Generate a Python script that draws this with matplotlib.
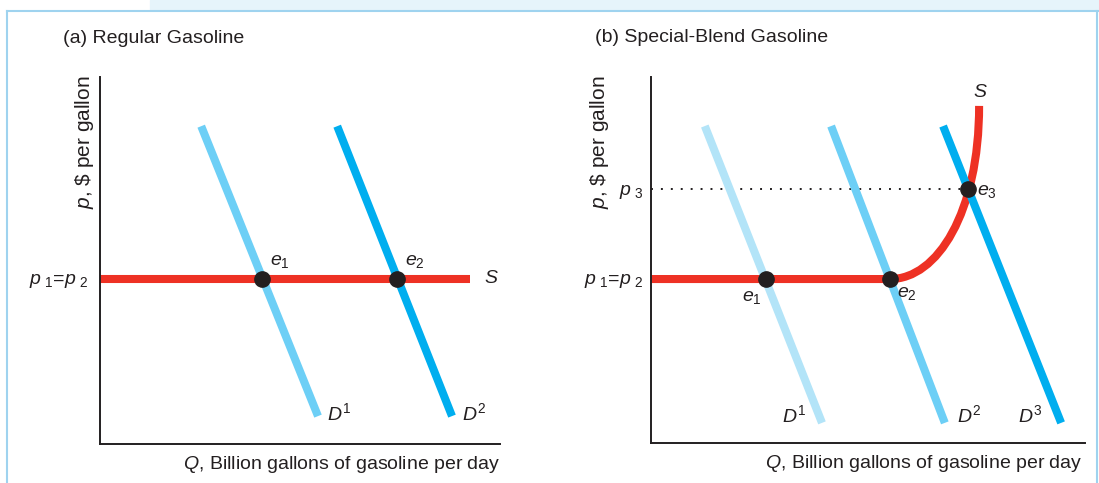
import matplotlib
matplotlib.use('Agg')
import matplotlib.pyplot as plt
from matplotlib.lines import Line2D
from matplotlib.patches import Rectangle, PathPatch
from matplotlib.path import Path

plt.rcParams['font.family'] = ['Liberation Sans', 'DejaVu Sans']
plt.rcParams['mathtext.fontset'] = 'custom'
plt.rcParams['mathtext.rm'] = 'Liberation Sans'
plt.rcParams['mathtext.it'] = 'Liberation Sans:italic'
plt.rcParams['mathtext.bf'] = 'Liberation Sans:bold'

# ---- data (axes run 0..10 in both panels) ----
# panel (a): regular gasoline
a_supply_q = [0.0, 9.25]
a_supply_p = [4.5, 4.5]
a_d1_q = [2.53, 5.45]
a_d1_p = [8.66, 0.76]
a_d2_q = [5.93, 8.80]
a_d2_p = [8.66, 0.76]
a_eq_q = [4.06, 7.43]
a_eq_p = [4.5, 4.5]

# panel (b): special-blend gasoline
# supply: flat part, then a cubic curve (start, two control points, end)
b_supply_q = [0.0, 5.51, 6.6, 7.56, 7.56]
b_supply_p = [4.48, 4.48, 4.48, 6.3, 9.21]
b_d1_q = [1.24, 3.94]
b_d1_p = [8.66, 0.55]
b_d2_q = [4.15, 6.77]
b_d2_p = [8.66, 0.55]
b_d3_q = [6.73, 9.45]
b_d3_p = [8.66, 0.55]
b_eq_q = [2.65, 5.51, 7.31]
b_eq_p = [4.48, 4.48, 6.95]
b_p3 = 6.95

red = '#ee3124'
blue_dark = '#00aeef'
blue_mid = '#6dcff6'
blue_light = '#b3e4f8'
ink = '#231f20'
fs = 14

fig = plt.figure(figsize=(10.99, 4.83), dpi=100)

# page decoration: light band and frame
fig.patches.append(Rectangle((150 / 1099, 1 - 10 / 483), 1, 10 / 483,
                             transform=fig.transFigure, color='#e6f4fb', zorder=0))
frame_kw = dict(transform=fig.transFigure, color='#9fd3ef', lw=1.5)
fig.lines.append(Line2D([7 / 1099, 1], [1 - 11 / 483, 1 - 11 / 483], **frame_kw))
fig.lines.append(Line2D([7 / 1099, 7 / 1099], [0, 1 - 11 / 483], **frame_kw))
fig.lines.append(Line2D([1097 / 1099, 1097 / 1099], [0, 1 - 11 / 483], **frame_kw))

ax1 = fig.add_axes([100 / 1099, 39 / 483, 400 / 1099, 367 / 483])
ax2 = fig.add_axes([651 / 1099, 40 / 483, 434 / 1099, 366 / 483])

for ax in (ax1, ax2):
    ax.set_xlim(0, 10)
    ax.set_ylim(0, 10)
    ax.set_xticks([])
    ax.set_yticks([])
    ax.spines['top'].set_visible(False)
    ax.spines['right'].set_visible(False)
    for s in ('left', 'bottom'):
        ax.spines[s].set_linewidth(1.4)
        ax.spines[s].set_color(ink)
    ax.patch.set_alpha(0)

lw = 5.8
p12 = r'$p_{\ 1}\!=\!p_{\ 2}$'

# ---- panel (a) ----
ax1.plot(a_d1_q, a_d1_p, color=blue_mid, lw=lw, solid_capstyle='butt')
ax1.plot(a_d2_q, a_d2_p, color=blue_dark, lw=lw, solid_capstyle='butt')
ax1.plot(a_supply_q, a_supply_p, color=red, lw=lw, solid_capstyle='butt', clip_on=False)
ax1.plot(a_eq_q, a_eq_p, 'o', color=ink, ms=11, zorder=5)

ax1.text(4.25, 4.98, '$e_1$', fontsize=fs, color=ink, ha='left', va='center')
ax1.text(7.63, 4.98, '$e_2$', fontsize=fs, color=ink, ha='left', va='center')
ax1.text(9.6, 4.5, '$S$', fontsize=fs, color=ink, ha='left', va='center')
ax1.text(5.68, 0.84, '$D^1$', fontsize=fs, color=ink, ha='left', va='center')
ax1.text(9.05, 0.84, '$D^2$', fontsize=fs, color=ink, ha='left', va='center')
ax1.text(-0.3, 4.45, p12, fontsize=fs, color=ink, ha='right', va='center')
ax1.text(10, -0.55, '$Q$, Billion gallons of gasoline per day', fontsize=fs, color=ink,
         ha='right', va='center')
ax1.text(-0.375, 10.05, r'$p$, \$ per gallon', fontsize=15, color=ink, rotation=90,
         ha='center', va='top')
ax1.text(-0.925, 11.06, '(a) Regular Gasoline', fontsize=fs, color=ink, ha='left', va='center')

# ---- panel (b) ----
ax2.plot([0, b_eq_q[2]], [b_p3, b_p3], color=ink, lw=1.4, dashes=(1, 4.1), clip_on=False)
ax2.plot(b_d1_q, b_d1_p, color=blue_light, lw=lw, solid_capstyle='butt')
ax2.plot(b_d2_q, b_d2_p, color=blue_mid, lw=lw, solid_capstyle='butt')
ax2.plot(b_d3_q, b_d3_p, color=blue_dark, lw=lw, solid_capstyle='butt')
supply_path = Path(list(zip(b_supply_q, b_supply_p)),
                   [Path.MOVETO, Path.LINETO, Path.CURVE4, Path.CURVE4, Path.CURVE4])
ax2.add_patch(PathPatch(supply_path, fill=False, edgecolor=red, lw=lw,
                        capstyle='butt', joinstyle='round', clip_on=False))
ax2.plot(b_eq_q, b_eq_p, 'o', color=ink, ms=11, zorder=5)

ax2.text(2.33, 3.98, '$e_1$', fontsize=fs, color=ink, ha='center', va='center')
ax2.text(5.67, 4.08, '$e_2$', fontsize=fs, color=ink, ha='left', va='center')
ax2.text(7.51, 6.88, '$e_3$', fontsize=fs, color=ink, ha='left', va='center')
ax2.text(7.58, 9.59, '$S$', fontsize=fs, color=ink, ha='center', va='center')
ax2.text(-0.18, 6.86, r'$p_{\ 3}$', fontsize=fs, color=ink, ha='right', va='center')
ax2.text(-0.18, 4.43, p12, fontsize=fs, color=ink, ha='right', va='center')
ax2.text(3.02, 0.77, '$D^1$', fontsize=fs, color=ink, ha='left', va='center')
ax2.text(7.05, 0.77, '$D^2$', fontsize=fs, color=ink, ha='left', va='center')
ax2.text(8.46, 0.77, '$D^3$', fontsize=fs, color=ink, ha='left', va='center')
ax2.text(9.95, -0.57, '$Q$, Billion gallons of gasoline per day', fontsize=fs, color=ink,
         ha='right', va='center')
ax2.text(-1.18, 10.05, r'$p$, \$ per gallon', fontsize=15, color=ink, rotation=90,
         ha='center', va='top')
ax2.text(-1.29, 11.07, '(b) Special-Blend Gasoline', fontsize=fs, color=ink, ha='left', va='center')

fig.savefig('out.png', dpi=100)
